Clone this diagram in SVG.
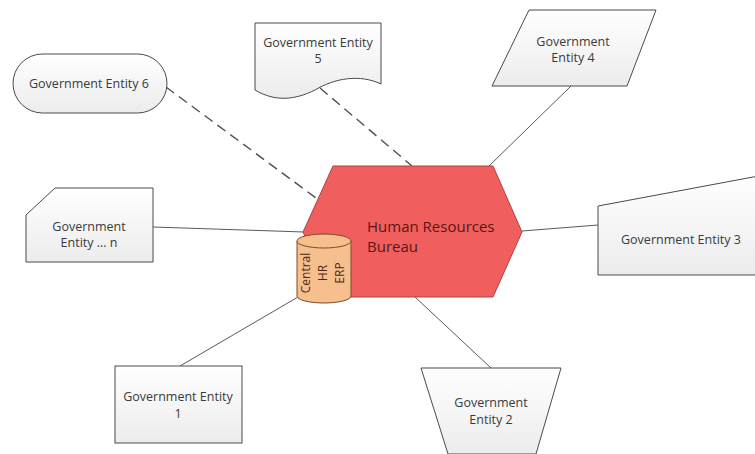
<svg xmlns="http://www.w3.org/2000/svg" width="755" height="454" viewBox="0 0 755 454">
  <defs>
    <linearGradient id="boxFill" x1="0" y1="0" x2="0" y2="1">
      <stop offset="0" stop-color="#ffffff"/>
      <stop offset="1" stop-color="#ececec"/>
    </linearGradient>
  </defs>
  <style>
    .box { fill: url(#boxFill); stroke: #4a4a4a; stroke-width: 1; }
    .lbl { font-family: "Open Sans", "Liberation Sans", sans-serif; font-size: 12.5px; fill: #3a3a3a; text-anchor: middle; }
    .link { stroke: #5a5a5a; stroke-width: 1; fill: none; }
    .dash { stroke: #505050; stroke-width: 1.4; stroke-dasharray: 10 6; }
    .hub { fill: #f15e5e; stroke: #a84444; stroke-width: 1; }
    .hubText { font-family: "Open Sans", "Liberation Sans", sans-serif; font-size: 15px; fill: #5a1616; }
    .db { fill: #f7be8e; stroke: #7a4c2c; stroke-width: 1; }
    .dbText { font-family: "Open Sans", "Liberation Sans", sans-serif; font-size: 12px; fill: #4a2a14; text-anchor: middle; }
  </style>

  <!-- connectors -->
  <g id="connectors">
    <line class="link dash" x1="166" y1="87" x2="316" y2="198"/>
    <line class="link dash" x1="320" y1="88" x2="412" y2="166"/>
    <line class="link" x1="489" y1="166" x2="571" y2="86"/>
    <line class="link" x1="522" y1="231" x2="598" y2="225"/>
    <line class="link" x1="153" y1="227" x2="304" y2="232"/>
    <line class="link" x1="180" y1="366" x2="298" y2="297"/>
    <line class="link" x1="415" y1="297" x2="491" y2="368"/>
  </g>

  <!-- central bureau -->
  <g id="hr-bureau">
    <polygon class="hub" points="333,166 493,166 522,232 493,297 333,297 303,232"/>
    <text class="hubText" x="367" y="232">Human Resources</text>
    <text class="hubText" x="367" y="252">Bureau</text>
  </g>

  <!-- ERP database -->
  <g id="central-erp">
    <path class="db" d="M297,241 A27,7 0 0 1 351,241 L351,296 A27,7 0 0 1 297,296 Z"/>
    <path class="db" d="M297,241 A27,7 0 0 0 351,241" fill="none"/>
    <text class="dbText" transform="translate(310,273) rotate(-90)">Central</text>
    <text class="dbText" transform="translate(327,273) rotate(-90)">HR</text>
    <text class="dbText" transform="translate(344,273) rotate(-90)">ERP</text>
  </g>

  <g id="entity-6">
    <rect class="box" x="13" y="54" width="154" height="59" rx="29.5" ry="29.5"/>
    <text class="lbl" x="89" y="88">Government Entity 6</text>
  </g>

  <g id="entity-5">
    <path class="box" d="M255,23 H381 V84 C360,74 335,78 315,90 C295,100 275,102 255,90 Z"/>
    <text class="lbl" x="318" y="47">Government Entity</text>
    <text class="lbl" x="318" y="63">5</text>
  </g>

  <g id="entity-4">
    <polygon class="box" points="529,10 656,10 627,86 492,86"/>
    <text class="lbl" x="573" y="46">Government</text>
    <text class="lbl" x="573" y="62">Entity 4</text>
  </g>

  <g id="entity-n">
    <polygon class="box" points="55,188 153,188 153,262 26,262 26,215"/>
    <text class="lbl" x="89" y="231">Government</text>
    <text class="lbl" x="89" y="247">Entity … n</text>
  </g>

  <g id="entity-3">
    <polygon class="box" points="598,206 780,172 780,275 598,275"/>
    <text class="lbl" x="681" y="244">Government Entity 3</text>
  </g>

  <g id="entity-1">
    <rect class="box" x="115" y="366" width="127" height="77"/>
    <text class="lbl" x="178" y="401">Government Entity</text>
    <text class="lbl" x="178" y="418">1</text>
  </g>

  <g id="entity-2">
    <polygon class="box" points="421,368 561,368 536,454 448,454"/>
    <text class="lbl" x="491" y="407">Government</text>
    <text class="lbl" x="491" y="424">Entity 2</text>
  </g>
</svg>
